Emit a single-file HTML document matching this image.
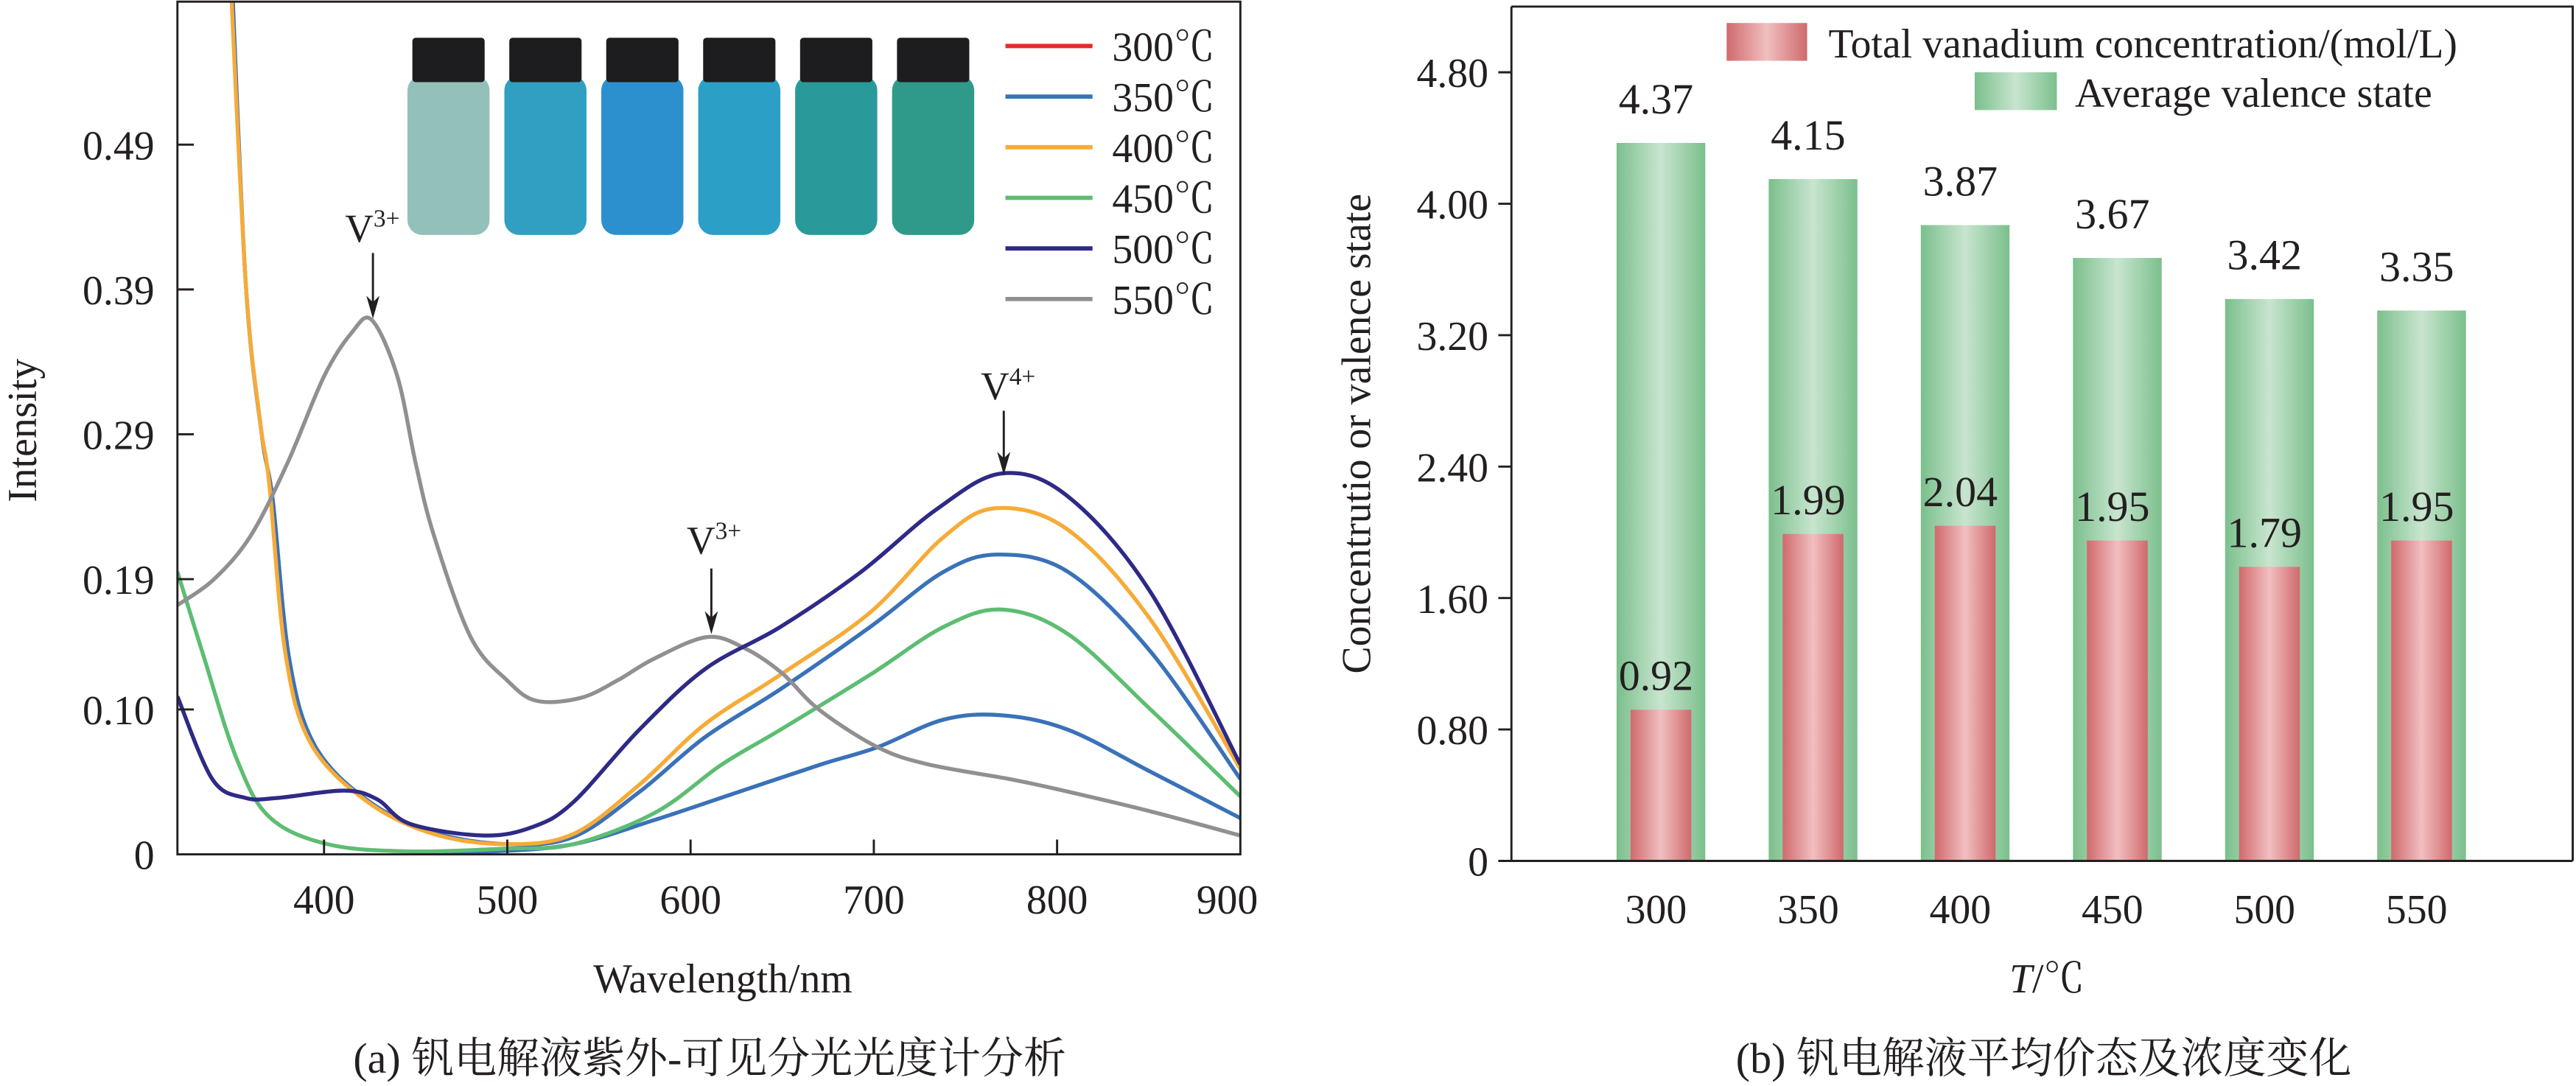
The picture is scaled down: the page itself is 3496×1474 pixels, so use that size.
<!DOCTYPE html>
<html><head><meta charset="utf-8">
<style>
html,body{margin:0;padding:0;background:#fff;}
svg{display:block;}
svg text{font-family:"Liberation Serif","Times New Roman","Noto Serif CJK SC",serif;fill:#231f20;}
</style></head>
<body>
<svg id="fig" width="3496" height="1474" viewBox="0 0 1568 661" preserveAspectRatio="none" xmlns="http://www.w3.org/2000/svg" font-family="Liberation Serif, Noto Serif CJK SC, serif">
<defs>
<linearGradient id="gGreen" x1="0" x2="1" y1="0" y2="0">
<stop offset="0" stop-color="#7bbf8c"/><stop offset="0.5" stop-color="#c8e5cf"/><stop offset="1" stop-color="#7bbf8c"/>
</linearGradient>
<linearGradient id="gRed" x1="0" x2="1" y1="0" y2="0">
<stop offset="0" stop-color="#cf6a6c"/><stop offset="0.5" stop-color="#f1bfc0"/><stop offset="1" stop-color="#cf6a6c"/>
</linearGradient>
<clipPath id="clipL"><rect x="108" y="1" width="647" height="519"/></clipPath>
</defs>

<!-- LEFT CHART -->
<g id="left">
<g id="vials"></g>
<g id="curves" clip-path="url(#clipL)"></g>
<rect x="108" y="1" width="647" height="519" fill="none" stroke="#231f20" stroke-width="1.3"/>
<g id="lTicks"></g>
<text x="22" y="262" font-size="25" text-anchor="middle" transform="rotate(-90 22 262)">Intensity</text>
<text x="440" y="604" font-size="25" text-anchor="middle">Wavelength/nm</text>
<text x="432" y="653" font-size="26" text-anchor="middle">(a) 钒电解液紫外-可见分光光度计分析</text>
<g id="legendL"></g>
<g>
<text x="210" y="147" font-size="24">V<tspan font-size="15" dy="-9">3+</tspan></text>
<line x1="227" y1="154" x2="227" y2="186" stroke="#231f20" stroke-width="1.3"/>
<path d="M223,180 L227,194 L231,180 L227,184 Z" fill="#231f20"/>
</g>
<g>
<text x="418" y="337" font-size="24">V<tspan font-size="15" dy="-9">3+</tspan></text>
<line x1="433" y1="346" x2="433" y2="378" stroke="#231f20" stroke-width="1.3"/>
<path d="M429,372 L433,386 L437,372 L433,376 Z" fill="#231f20"/>
</g>
<g>
<text x="597" y="243" font-size="24">V<tspan font-size="15" dy="-9">4+</tspan></text>
<line x1="611" y1="250" x2="611" y2="281" stroke="#231f20" stroke-width="1.3"/>
<path d="M607,275 L611,289 L615,275 L611,279 Z" fill="#231f20"/>
</g>
</g>

<!-- RIGHT CHART -->
<g id="right">
<g id="bars"></g>
<path d="M920,4 L1566,4 L1566,524 M920,4 L920,524 L1566,524" fill="none" stroke="#231f20" stroke-width="1.3"/>
<g id="rTicks"></g>
<text x="834" y="264" font-size="25" text-anchor="middle" transform="rotate(-90 834 264)">Concentrutio or valence state</text>
<text x="1246" y="604" font-size="25" text-anchor="middle"><tspan font-style="italic">T</tspan>/℃</text>
<text x="1244" y="653" font-size="26" text-anchor="middle">(b) 钒电解液平均价态及浓度变化</text>
<g>
<rect x="1051" y="14" width="49" height="23" fill="url(#gRed)"/>
<text x="1113" y="35" font-size="25">Total vanadium concentration/(mol/L)</text>
<rect x="1202" y="44" width="50" height="23" fill="url(#gGreen)"/>
<text x="1263" y="65" font-size="25">Average valence state</text>
</g>
</g>
</svg>
<script>
// ---------- Left chart data ----------
const seriesNames = ["300℃","350℃","400℃","450℃","500℃","550℃"];
const seriesColors = ["#e32b2b","#3a72b8","#f6ab38","#5dbd72","#2e2a86","#928f93"];
const wlLowBlue = [450,491,536,581,626,671,702,738,770,806,851,900];
const vLowBlue  = [0.002,0.002,0.007,0.024,0.043,0.062,0.074,0.093,0.096,0.086,0.057,0.025];
const wlBlue = [348,357,366,372,381,395,424,460,500,536,572,608,649,698,738,768,806,851,900];
const vBlue  = [0.66,0.40,0.29,0.245,0.135,0.075,0.037,0.015,0.007,0.012,0.043,0.081,0.114,0.157,0.195,0.207,0.195,0.14,0.052];
const wlOrange = [347,357,365,370,379,393,424,460,500,536,572,608,649,698,738,767,806,851,900];
const vOrange  = [0.66,0.40,0.30,0.257,0.138,0.076,0.036,0.014,0.007,0.014,0.048,0.09,0.124,0.167,0.219,0.239,0.224,0.162,0.059];
const wlGreen = [320,334,352,370,402,447,500,536,581,617,649,698,738,770,806,851,900];
const vGreen  = [0.195,0.138,0.067,0.026,0.007,0.002,0.004,0.007,0.029,0.062,0.086,0.124,0.157,0.169,0.152,0.10,0.040];
const wlPurple = [320,339,357,375,411,429,447,487,514,536,572,608,649,693,734,770,806,851,900];
const vPurple  = [0.109,0.052,0.039,0.039,0.044,0.038,0.021,0.013,0.019,0.036,0.086,0.128,0.157,0.195,0.238,0.263,0.247,0.181,0.062];
const wlGray = [320,340,360,380,400,415,426,440,450,460,480,500,516,540,560,580,609,630,650,670,702,730,774,800,850,900];
const vGray  = [0.172,0.19,0.22,0.27,0.33,0.36,0.369,0.33,0.27,0.22,0.15,0.12,0.106,0.108,0.12,0.135,0.150,0.142,0.125,0.10,0.074,0.062,0.052,0.045,0.03,0.013];
const xTicksL = [400,500,600,700,800,900];
const yTickValsL = [0,0.10,0.19,0.29,0.39,0.49];
const yTickLabelsL = ["0","0.10","0.19","0.29","0.39","0.49"];
const vialColors = ["#93c1b9","#319fc1","#2c90cf","#2c9fc6","#2a9999","#2f9a8a"];

// ---------- Right chart data ----------
const temps = ["300","350","400","450","500","550"];
const valence = [4.37,4.15,3.87,3.67,3.42,3.35];
const conc = [0.92,1.99,2.04,1.95,1.79,1.95];
const yTicksR = [0,0.8,1.6,2.4,3.2,4.0,4.8];
const yTickLabelsR = ["0","0.80","1.60","2.40","3.20","4.00","4.80"];

const NS="http://www.w3.org/2000/svg";
function mk(tag,attrs,parent){const e=document.createElementNS(NS,tag);for(const k in attrs)e.setAttribute(k,attrs[k]);parent.appendChild(e);return e;}
const xL=nm=>108+(nm-320)/580*647;
const yL=v=>520-v*881.6;
const xR=i=>1011+i*92.6;
const yR=v=>524-v*100;

function smooth(pts){
  let d="M"+pts[0][0].toFixed(2)+","+pts[0][1].toFixed(2);
  for(let i=0;i<pts.length-1;i++){
    const p0=pts[Math.max(i-1,0)],p1=pts[i],p2=pts[i+1],p3=pts[Math.min(i+2,pts.length-1)];
    const c1=[p1[0]+(p2[0]-p0[0])/6,p1[1]+(p2[1]-p0[1])/6];
    const c2=[p2[0]-(p3[0]-p1[0])/6,p2[1]-(p3[1]-p1[1])/6];
    d+=" C"+c1[0].toFixed(2)+","+c1[1].toFixed(2)+" "+c2[0].toFixed(2)+","+c2[1].toFixed(2)+" "+p2[0].toFixed(2)+","+p2[1].toFixed(2);
  }
  return d;
}

// vials
const vg=document.getElementById("vials");
vialColors.forEach((c,i)=>{
  const x=248+i*59, w=50;
  const b=mk("rect",{x:x,y:46,width:w,height:97,rx:9,fill:c},vg);
  
  
  const cap=mk("rect",{x:x+3,y:23,width:w-6,height:27,rx:2,fill:"#1d1d1f"},vg);
  
  
});

// curves
const cg=document.getElementById("curves");
const curveList=[[wlLowBlue,vLowBlue,seriesColors[1],"curve-300c"],[wlGreen,vGreen,seriesColors[3],"curve-450c"],[wlBlue,vBlue,seriesColors[1],"curve-350c"],[wlOrange,vOrange,seriesColors[2],"curve-400c"],[wlGray,vGray,seriesColors[5],"curve-550c"],[wlPurple,vPurple,seriesColors[4],"curve-500c"]];
curveList.forEach(c=>{
  const pts=c[0].map((w,i)=>[xL(w),yL(c[1][i])]);
  const p=mk("path",{d:smooth(pts),fill:"none",stroke:c[2],"stroke-width":2.4,"stroke-linejoin":"round"},cg);
  
  
});

// left ticks
const lt=document.getElementById("lTicks");
xTicksL.forEach(v=>{
  if(v<900){const l=mk("line",{x1:xL(v),x2:xL(v),y1:520,y2:511,stroke:"#231f20","stroke-width":1.3},lt);
  
  }
  const t=mk("text",{x:xL(v)-(v===900?8:0),y:556,"font-size":25,"text-anchor":"middle"},lt);
  t.textContent=v;
  
  
});
yTickValsL.forEach((v,i)=>{
  if(v>0){const l=mk("line",{x1:108,x2:118,y1:yL(v),y2:yL(v),stroke:"#231f20","stroke-width":1.3},lt);
  
  }
  const t=mk("text",{x:94,y:yL(v)+9,"font-size":25,"text-anchor":"end"},lt);
  t.textContent=yTickLabelsL[i];
  
  
});

// left legend
const lg=document.getElementById("legendL");
seriesNames.forEach((n,i)=>{
  const y=28+i*30.8;
  const l=mk("line",{x1:612,x2:665,y1:y,y2:y,stroke:seriesColors[i],"stroke-width":2.6},lg);
  
  
  const t=mk("text",{x:677,y:y+9,"font-size":25},lg);
  t.textContent=n;
  
  
});

// bars
const bg=document.getElementById("bars");
temps.forEach((tp,i)=>{
  const cx=xR(i);
  const g=mk("rect",{x:cx-27,y:yR(valence[i]),width:54,height:yR(0)-yR(valence[i]),fill:"url(#gGreen)"},bg);
  
  
  const r=mk("rect",{x:cx-18.5,y:yR(conc[i]),width:37,height:yR(0)-yR(conc[i]),fill:"url(#gRed)"},bg);
  
  
  const tv=mk("text",{x:cx-3,y:yR(valence[i])-18,"font-size":26,"text-anchor":"middle"},bg);
  tv.textContent=valence[i].toFixed(2);
  
  
  const tc=mk("text",{x:cx-3,y:yR(conc[i])-12,"font-size":26,"text-anchor":"middle"},bg);
  tc.textContent=conc[i].toFixed(2);
  
  
  const tx=mk("text",{x:cx-3,y:562,"font-size":25,"text-anchor":"middle"},bg);
  tx.textContent=tp;
  
  
});
const rt=document.getElementById("rTicks");
yTicksR.forEach((v,i)=>{
  const l=mk("line",{x1:912,x2:920,y1:yR(v),y2:yR(v),stroke:"#231f20","stroke-width":1.3},rt);
  
  
  const t=mk("text",{x:906,y:yR(v)+9,"font-size":25,"text-anchor":"end"},rt);
  t.textContent=yTickLabelsR[i];
  
  
});
</script>
</body></html>
